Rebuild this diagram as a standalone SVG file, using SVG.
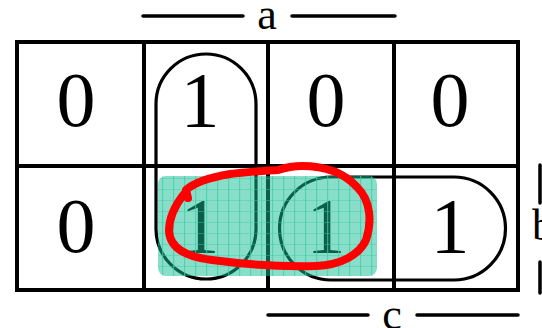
<svg xmlns="http://www.w3.org/2000/svg" width="542" height="328" viewBox="0 0 542 328">
  <defs>
    <style>
      .grid { fill: none; stroke: #000; stroke-width: 4; }
      .loop { fill: none; stroke: #000; stroke-width: 3.2; }
      .digit { font-family: "Liberation Serif", "Times New Roman", serif; font-size: 78px; text-anchor: middle; fill: #000; }
      .lbl { font-family: "Liberation Serif", "Times New Roman", serif; font-size: 44px; fill: #000; }
      .bar { stroke: #000; stroke-width: 3.5; stroke-linecap: round; fill: none; }
      .hl { fill: #14be96; fill-opacity: 0.5; }
      .red { fill: none; stroke: #ff0000; stroke-width: 8; stroke-linejoin: round; stroke-linecap: round; }
    </style>
    <pattern id="paper" x="0" y="2" width="11" height="11" patternUnits="userSpaceOnUse">
      <path d="M 8.7 0 V 11 M 0 0 H 11" stroke="#3ccca4" stroke-width="1" fill="none"/>
    </pattern>
    <clipPath id="hlclip">
      <rect x="158" y="176" width="219" height="100" rx="8"/>
    </clipPath>
  </defs>

  <g id="kmap-grid">
    <rect class="grid" x="17" y="42" width="501" height="248"/>
    <line class="grid" x1="144" y1="42" x2="144" y2="290"/>
    <line class="grid" x1="268" y1="42" x2="268" y2="290"/>
    <line class="grid" x1="394" y1="42" x2="394" y2="290"/>
    <line class="grid" x1="17" y1="166" x2="518" y2="166"/>
  </g>

  <g id="cells">
    <g id="cell-r1c1"><text class="digit" x="76" y="126">0</text></g>
    <g id="cell-r1c2"><text class="digit" x="200" y="126">1</text></g>
    <g id="cell-r1c3"><text class="digit" x="326" y="126">0</text></g>
    <g id="cell-r1c4"><text class="digit" x="450" y="126">0</text></g>
    <g id="cell-r2c1"><text class="digit" x="76" y="252">0</text></g>
    <g id="cell-r2c2"><text class="digit" x="200" y="252">1</text></g>
    <g id="cell-r2c3"><text class="digit" x="326" y="252">1</text></g>
    <g id="cell-r2c4"><text class="digit" x="450" y="252">1</text></g>
  </g>

  <g id="loops">
    <rect id="loop-vertical" class="loop" x="156" y="54" width="100" height="225" rx="50"/>
    <rect id="loop-horizontal" class="loop" x="279.5" y="177" width="226" height="103" rx="51.5"/>
  </g>

  <g id="labels">
    <g id="label-a">
      <line class="bar" x1="143" y1="16" x2="243" y2="16"/>
      <line class="bar" x1="292" y1="16" x2="395" y2="16"/>
      <text class="lbl" x="267" y="29" text-anchor="middle">a</text>
    </g>
    <g id="label-b">
      <line class="bar" x1="540" y1="165" x2="540" y2="203"/>
      <line class="bar" x1="540" y1="262" x2="540" y2="293"/>
      <text class="lbl" x="532" y="240">b</text>
    </g>
    <g id="label-c">
      <line class="bar" x1="268" y1="315" x2="368" y2="315"/>
      <line class="bar" x1="417" y1="315" x2="518" y2="315"/>
      <text class="lbl" x="392" y="329" text-anchor="middle">c</text>
    </g>
  </g>

  <g id="highlight">
    <rect class="hl" x="158" y="176" width="219" height="100" rx="8"/>
    <rect x="158" y="176" width="219" height="100" fill="url(#paper)" clip-path="url(#hlclip)" opacity="0.85"/>
  </g>

  <g id="red-loop">
    <path class="red" d="M 184,194 C 176,204 169,216 169,231 C 170,248 186,257 212,260 C 242,264 282,267 316,266 C 341,265 359,255 366,240 C 372,222 371,201 357,187 C 346,175 328,166 302,166 C 290,166 284,168 278,170 C 262,171 246,172 230,174 C 212,177 196,181 186,190 L 188,198"/>
  </g>
</svg>
